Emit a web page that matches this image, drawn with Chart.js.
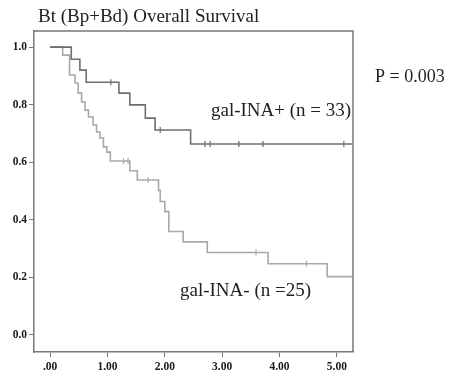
<!DOCTYPE html>
<html>
<head>
<meta charset="utf-8">
<script src="https://cdn.jsdelivr.net/npm/chart.js@4"></script>
<style>
  html, body { margin: 0; padding: 0; background: #fff; }
  canvas { display: block; }
</style>
</head>
<body>
<canvas id="km" width="451" height="377"></canvas>
<script>
// gal-INA+ curve (years, survival after each drop)
const posTimes = [0, 0.37, 0.52, 0.63, 1.20, 1.39, 1.66, 1.83, 2.45, 5.26];
const posSurv  = [1.0, 0.958, 0.920, 0.878, 0.840, 0.799, 0.753, 0.712, 0.663, 0.663];
const posCensor = [1.06, 1.92, 2.70, 2.79, 3.29, 3.71, 5.12];

// gal-INA- curve
const negTimes = [0, 0.22, 0.34, 0.435, 0.49, 0.55, 0.61, 0.67, 0.75, 0.81, 0.87, 0.93, 0.99, 1.05,
  1.39, 1.52, 1.89, 1.92, 2.00, 2.07, 2.32, 2.74, 3.80, 4.83, 5.26];
const negSurv  = [1.0, 0.972, 0.903, 0.875, 0.840, 0.809, 0.781, 0.757, 0.729, 0.705, 0.684, 0.653, 0.635, 0.604,
  0.570, 0.538, 0.502, 0.463, 0.428, 0.359, 0.323, 0.286, 0.247, 0.202, 0.202];
const negCensor = [1.28, 1.36, 1.71, 3.59, 4.47];

const xTicks = [0, 1, 2, 3, 4, 5];
const xLabels = [".00", "1.00", "2.00", "3.00", "4.00", "5.00"];
const yTicks = [0, 0.2, 0.4, 0.6, 0.8, 1.0];
const yLabels = ["0.0", "0.2", "0.4", "0.6", "0.8", "1.0"];

const darkGray = "#6e6e6e";
const lightGray = "#a9a9a9";

function levelAt(times, surv, t) {
  let s = surv[0];
  for (let i = 0; i < times.length; i++) {
    if (times[i] <= t) s = surv[i];
  }
  return s;
}

function curve(times, surv) {
  return times.map((t, i) => ({ x: t, y: surv[i] }));
}

function censors(list, times, surv) {
  return list.map(t => ({ x: t, y: levelAt(times, surv, t) }));
}

// frame and text labels
const decor = {
  id: "decor",
  afterDraw(chart) {
    const ctx = chart.ctx;
    const a = chart.chartArea;
    ctx.save();
    ctx.strokeStyle = "#777";
    ctx.lineWidth = 1.5;
    ctx.beginPath();
    ctx.moveTo(a.left, a.top);
    ctx.lineTo(a.right, a.top);
    ctx.lineTo(a.right, a.bottom);
    ctx.stroke();

    ctx.fillStyle = "#222";
    ctx.textBaseline = "alphabetic";
    ctx.textAlign = "left";
    ctx.font = "19px 'Liberation Serif'";
    ctx.fillText("Bt (Bp+Bd) Overall Survival", 38, 22);
    ctx.fillText("gal-INA+ (n = 33)", 211, 116);
    ctx.fillText("gal-INA- (n =25)", 180, 296);
    ctx.font = "18px 'Liberation Serif'";
    ctx.fillText("P = 0.003", 375, 82);
    ctx.restore();
  }
};

const tickFont = { family: "'Liberation Serif'", size: 11.5, weight: "bold" };

new Chart(document.getElementById("km"), {
  type: "scatter",
  data: {
    datasets: [
      {
        data: curve(posTimes, posSurv),
        showLine: true,
        stepped: "before",
        borderColor: darkGray,
        borderWidth: 1.6,
        pointRadius: 0
      },
      {
        data: curve(negTimes, negSurv),
        showLine: true,
        stepped: "before",
        borderColor: lightGray,
        borderWidth: 1.6,
        pointRadius: 0
      },
      {
        data: censors(posCensor, posTimes, posSurv),
        pointStyle: "line",
        rotation: 90,
        pointRadius: 3,
        borderColor: darkGray,
        borderWidth: 1.2
      },
      {
        data: censors(negCensor, negTimes, negSurv),
        pointStyle: "line",
        rotation: 90,
        pointRadius: 3,
        borderColor: lightGray,
        borderWidth: 1.2
      }
    ]
  },
  options: {
    responsive: false,
    animation: false,
    devicePixelRatio: 1,
    layout: { padding: { top: 31, right: 98, left: 0, bottom: 0 } },
    plugins: {
      legend: { display: false },
      tooltip: { enabled: false }
    },
    scales: {
      x: {
        type: "linear",
        min: -0.28,
        max: 5.28,
        afterBuildTicks: s => { s.ticks = xTicks.map(v => ({ value: v })); },
        afterFit: s => { s.height = 25; },
        ticks: {
          autoSkip: false,
          maxRotation: 0,
          padding: 3,
          color: "#1a1a1a",
          font: tickFont,
          callback: v => xLabels[xTicks.indexOf(v)]
        },
        grid: { drawOnChartArea: false, tickLength: 5, color: "#777", lineWidth: 1 },
        border: { color: "#777", width: 1.5 }
      },
      y: {
        min: -0.06,
        max: 1.056,
        afterBuildTicks: s => { s.ticks = yTicks.map(v => ({ value: v })); },
        afterFit: s => { s.width = 34; },
        ticks: {
          autoSkip: false,
          padding: 2,
          color: "#1a1a1a",
          font: tickFont,
          callback: v => yLabels[yTicks.indexOf(v)]
        },
        grid: { drawOnChartArea: false, tickLength: 5, color: "#777", lineWidth: 1 },
        border: { color: "#777", width: 1.5 }
      }
    }
  },
  plugins: [decor]
});
</script>
</body>
</html>
